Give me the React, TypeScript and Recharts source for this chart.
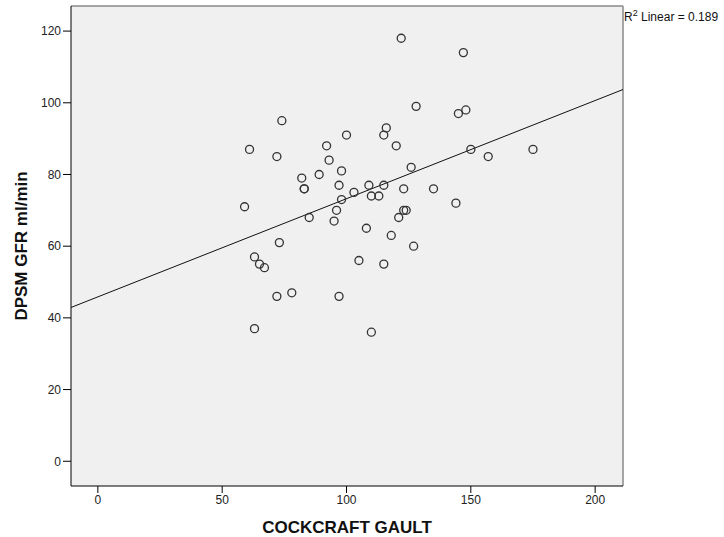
import {
  ScatterChart,
  Scatter,
  XAxis,
  YAxis,
  CartesianGrid,
  ReferenceLine,
} from "recharts";

const cockcroftGault = [
  61, 74, 72, 59, 92, 93, 100, 98, 89, 82, 83, 83, 97, 103, 98, 96, 85, 95,
  73, 122, 147, 128, 145, 148, 116, 115, 120, 150, 157, 175, 126, 109, 115,
  110, 113, 123, 135, 144, 123, 124, 121, 108, 118, 127, 63, 65, 67, 72, 78,
  97, 63, 105, 115, 110,
];
const dpsmGfr = [
  87, 95, 85, 71, 88, 84, 91, 81, 80, 79, 76, 76, 77, 75, 73, 70, 68, 67, 61,
  118, 114, 99, 97, 98, 93, 91, 88, 87, 85, 87, 82, 77, 77, 74, 74, 76, 76,
  72, 70, 70, 68, 65, 63, 60, 57, 55, 54, 46, 47, 46, 37, 56, 55, 36,
];

// linear fit (R² = 0.189), endpoints at the frame edges
const fitX = [-10.8, 211.2];
const fitY = [42.9, 103.7];

const xTicks = [0, 50, 100, 150, 200];
const yTicks = [0, 20, 40, 60, 80, 100, 120];
const X_DOMAIN: [number, number] = [-10.8, 211.2];
const Y_DOMAIN: [number, number] = [-6.9, 127];

const points = cockcroftGault.map((x, i) => ({ x, y: dpsmGfr[i] }));
const fitLine = fitX.map((x, i) => ({ x, y: fitY[i] }));

const FONT = "Arial, 'Liberation Sans', sans-serif";

function Ring(props: any) {
  return (
    <circle
      cx={props.cx}
      cy={props.cy}
      r={4}
      fill="none"
      stroke="#333"
      strokeWidth={1.3}
    />
  );
}

export default function App() {
  return (
    <div style={{ position: "relative", width: 724, height: 537, background: "#fff" }}>
      <style>{`body{margin:0}`}</style>
      <ScatterChart
        width={724}
        height={537}
        margin={{ top: 6, right: 101, bottom: 0, left: 0 }}
      >
        <CartesianGrid
          fill="#F0F0F0"
          horizontal={false}
          vertical={false}
        />
        <XAxis
          type="number"
          dataKey="x"
          domain={X_DOMAIN}
          ticks={xTicks}
          allowDataOverflow
          height={51}
          tickSize={7}
          axisLine={{ stroke: "#000" }}
          tickLine={{ stroke: "#000" }}
          tick={{ fontSize: 12, fill: "#222", fontFamily: FONT }}
          label={{
            value: "COCKCRAFT GAULT",
            position: "insideBottom",
            offset: 4,
            style: { fontSize: 17, fontWeight: 700, fill: "#111", fontFamily: FONT },
          }}
        />
        <YAxis
          type="number"
          dataKey="y"
          domain={Y_DOMAIN}
          ticks={yTicks}
          allowDataOverflow
          width={71}
          tickSize={8}
          axisLine={{ stroke: "#000" }}
          tickLine={{ stroke: "#000" }}
          tick={{ fontSize: 12, fill: "#222", fontFamily: FONT }}
          label={{
            value: "DPSM GFR ml/min",
            angle: -90,
            position: "insideLeft",
            offset: 21,
            style: {
              fontSize: 17,
              fontWeight: 700,
              fill: "#111",
              fontFamily: FONT,
              textAnchor: "middle",
            },
          }}
        />
        <ReferenceLine y={Y_DOMAIN[1]} stroke="#8a8a8a" strokeWidth={1.5} />
        <ReferenceLine x={X_DOMAIN[1]} stroke="#8a8a8a" strokeWidth={1.5} />
        <Scatter
          data={fitLine}
          line={{ stroke: "#111", strokeWidth: 1 }}
          shape={() => <g />}
          isAnimationActive={false}
        />
        <Scatter data={points} shape={Ring} isAnimationActive={false} />
      </ScatterChart>
      <div
        style={{
          position: "absolute",
          left: 624,
          top: 8,
          fontSize: 12,
          fontFamily: FONT,
          color: "#111",
          whiteSpace: "nowrap",
        }}
      >
        R<sup style={{ fontSize: 9 }}>2</sup> Linear = 0.189
      </div>
    </div>
  );
}
